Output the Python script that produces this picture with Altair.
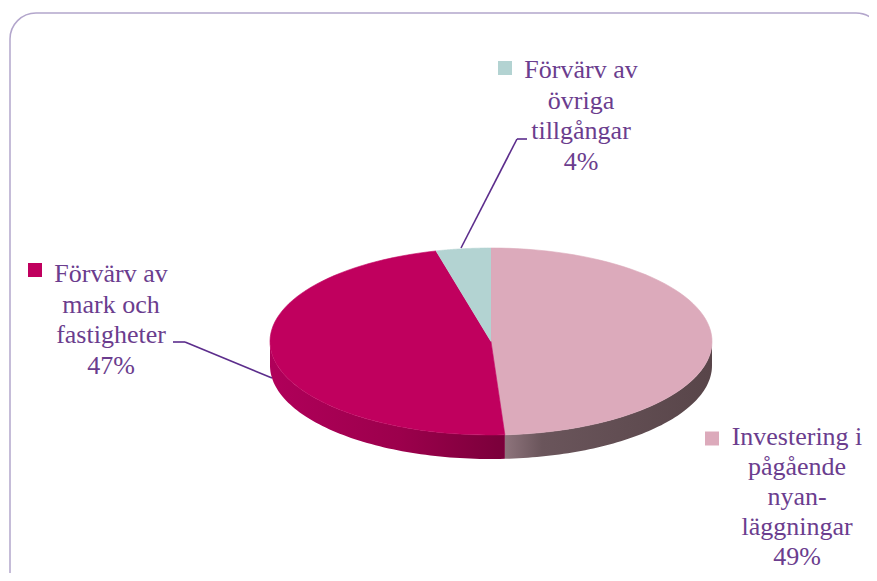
import altair as alt
import pandas as pd

# ---- data ----
categories = [
    "Investering i pågående nyanläggningar",
    "Förvärv av mark och fastigheter",
    "Förvärv av övriga tillgångar",
]
values = [49, 47, 4]
label_lines = [
    ["Investering i", "pågående", "nyan-", "läggningar"],
    ["Förvärv av", "mark och", "fastigheter"],
    ["Förvärv av", "övriga", "tillgångar"],
]
top_colors = ["#dcaabb", "#c0005e", "#b3d3d2"]

# ---- layout (chart pixel coordinates) ----
N = 72
DEPTH = 0.257
W, H = 861, 565
FONT = "Liberation Serif"
TEXT_COLOR = "#6b3d8e"
LINE_COLOR = "#5c2d8c"
label_layout = {
    categories[0]: dict(tx=789, ty=437, sx=704, sy=430.5, lh=30),
    categories[1]: dict(tx=103, ty=274, sx=27, sy=262, lh=30.5),
    categories[2]: dict(tx=573, ty=70, sx=497, sy=60, lh=30.5),
}
leaders = [
    (165, 334, 177, 334), (177, 334, 264, 370),
    (509, 131, 519, 131), (509, 131, 453, 240),
]

df = pd.DataFrame({"category": categories, "value": values, "order": list(range(len(values)))})
labels_df = pd.DataFrame({
    "category": categories,
    "label": ["\n".join(l + [f"{v}%"]) for l, v in zip(label_lines, values)],
})

cscale = alt.Scale(domain=categories, range=top_colors)
xs = alt.Scale(domain=[-1, 1], range=[262, 704], nice=False, zero=False)
ys = alt.Scale(domain=[-1, 1], range=[427, 240], nice=False, zero=False)

base = (
    alt.Chart(df)
    .transform_joinaggregate(total="sum(value)")
    .transform_window(cum="sum(value)", sort=[alt.SortField("order")], frame=[None, 0])
    .transform_calculate(
        a1="2*PI*(datum.cum-datum.value)/datum.total",
        a2="2*PI*datum.cum/datum.total",
    )
)

top = (
    base.transform_calculate(steps=f"sequence(-1, {N + 1})")
    .transform_flatten(["steps"], as_=["step"])
    .transform_calculate(ang=f"datum.a1 + (datum.a2-datum.a1)*datum.step/{N}")
    .transform_calculate(
        px="datum.step < 0 ? 0 : sin(datum.ang)",
        py="datum.step < 0 ? 0 : cos(datum.ang)",
    )
    .mark_line(strokeWidth=0.6)
    .encode(
        x=alt.X("px:Q", scale=xs, axis=None),
        y=alt.Y("py:Q", scale=ys, axis=None),
        order=alt.Order("step:Q"),
        detail="category:N",
        fill=alt.Fill("category:N", scale=cscale, legend=None),
        stroke=alt.Stroke("category:N", scale=cscale, legend=None),
    )
)

side_base = (
    base.transform_calculate(s="max(datum.a1, PI/2)", e="min(datum.a2, 3*PI/2)")
    .transform_filter("datum.s < datum.e")
    .transform_calculate(steps=f"sequence(0, {2 * N + 2})")
    .transform_flatten(["steps"], as_=["step"])
    .transform_calculate(t=f"datum.step <= {N} ? datum.step/{N} : ({2 * N + 1}-datum.step)/{N}")
    .transform_calculate(ang="datum.s + (datum.e-datum.s)*datum.t")
    .transform_calculate(
        px="sin(datum.ang)",
        py=f"cos(datum.ang) - (datum.step > {N} ? {DEPTH} : 0)",
    )
)

side_grads = {
    categories[0]: alt.LinearGradient(
        gradient="linear", x1=0, x2=1, y1=0, y2=0,
        stops=[alt.GradientStop(offset=0, color="#8e747c"),
               alt.GradientStop(offset=0.18, color="#6a555b"),
               alt.GradientStop(offset=1, color="#584549")],
    ),
    categories[1]: alt.LinearGradient(
        gradient="linear", x1=0, x2=1, y1=0, y2=0,
        stops=[alt.GradientStop(offset=0, color="#b0005a"),
               alt.GradientStop(offset=0.55, color="#9c004c"),
               alt.GradientStop(offset=1, color="#7a003a")],
    ),
}

sides = []
for cat, grad in side_grads.items():
    sides.append(
        side_base.transform_filter(alt.datum.category == cat)
        .mark_line(fill=grad, strokeOpacity=0)
        .encode(
            x=alt.X("px:Q", scale=xs, axis=None),
            y=alt.Y("py:Q", scale=ys, axis=None),
            order=alt.Order("step:Q"),
        )
    )

one = pd.DataFrame({"a": [0]})
frame = alt.Chart(one).mark_rect(
    fill="white", fillOpacity=0, stroke="#b3a6cc", strokeWidth=1.5, cornerRadius=26
).encode(x=alt.value(2), x2=alt.value(874), y=alt.value(5), y2=alt.value(650))

leader_layers = [
    alt.Chart(one).mark_rule(color=LINE_COLOR, strokeWidth=1.6).encode(
        x=alt.value(a), y=alt.value(b), x2=alt.value(c), y2=alt.value(d)
    )
    for a, b, c, d in leaders
]

label_layers = []
for cat, lay in label_layout.items():
    label_layers.append(
        alt.Chart(labels_df).transform_filter(alt.datum.category == cat)
        .mark_text(font=FONT, fontSize=26, color=TEXT_COLOR, align="center",
                   baseline="alphabetic", lineBreak="\n", lineHeight=lay["lh"])
        .encode(x=alt.value(lay["tx"]), y=alt.value(lay["ty"]), text="label:N")
    )
    label_layers.append(
        alt.Chart(df).transform_filter(alt.datum.category == cat)
        .mark_square(size=196, opacity=1)
        .encode(x=alt.value(lay["sx"]), y=alt.value(lay["sy"]),
                color=alt.Color("category:N", scale=cscale, legend=None))
    )

chart = (
    alt.layer(frame, *sides, top, *leader_layers, *label_layers)
    .properties(width=W, height=H, autosize=alt.AutoSizeParams(type="none"), padding=0,
                background="white")
    .configure_view(strokeWidth=0)
)

chart.save("out.html", embed_options={"renderer": "svg", "actions": False})
